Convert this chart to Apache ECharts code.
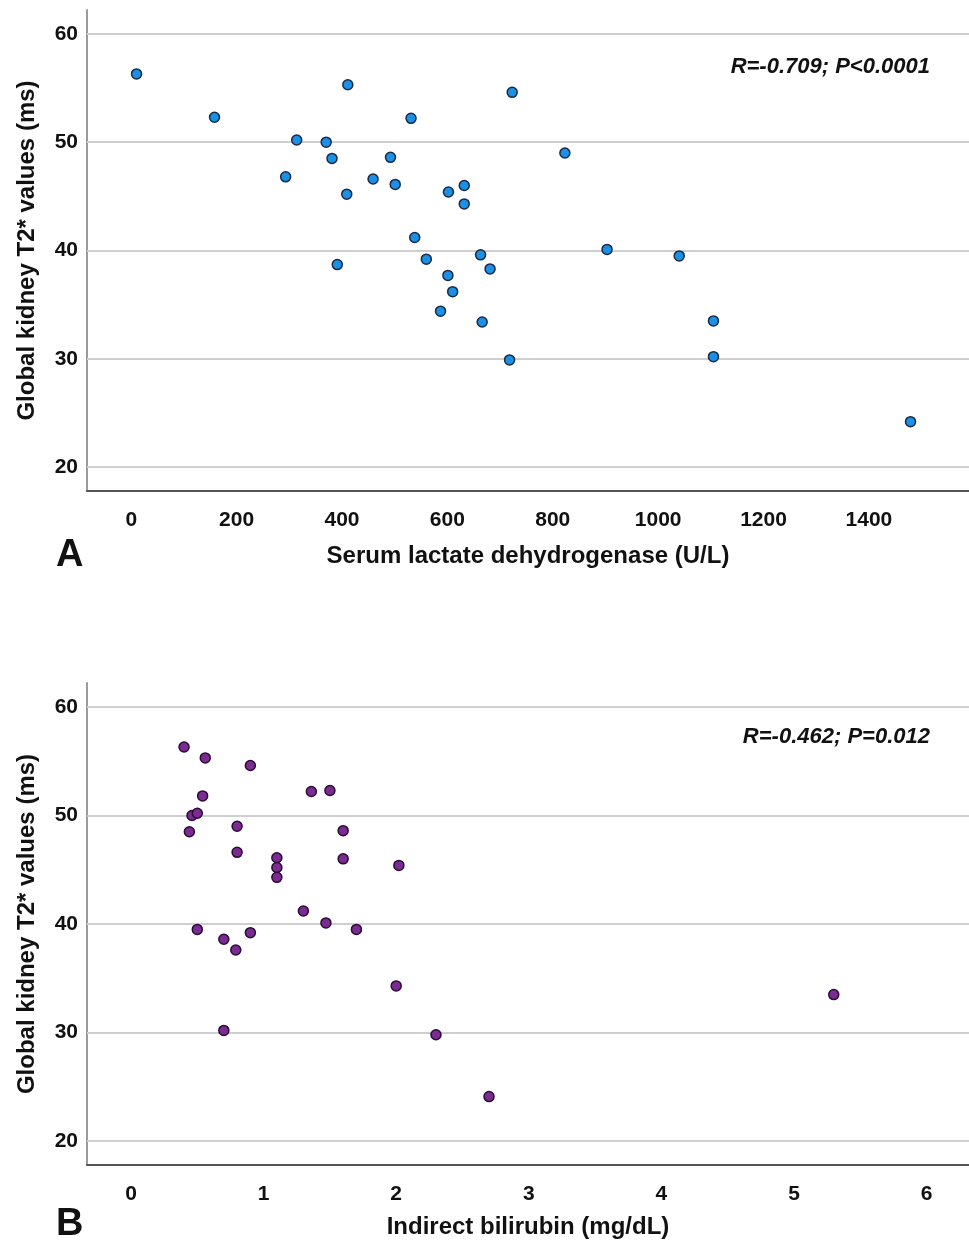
<!DOCTYPE html>
<html>
<head>
<meta charset="utf-8">
<script src="https://cdn.jsdelivr.net/npm/echarts@6/dist/echarts.min.js"></script>
<style>html,body{margin:0;padding:0;background:#fff}#c{width:969px;height:1243px}</style>
</head>
<body>
<div id="c"></div>
<script>
// Panel A: serum LDH vs T2*
const ldh = [10,158,293,314,370,381,391,409,411,459,492,501,531,538,560,587,601,602,610,632,632,663,666,681,718,723,823,903,1040,1105,1105,1479];
const t2A = [56.3,52.3,46.8,50.2,50.0,48.5,38.7,45.2,55.3,46.6,48.6,46.1,52.2,41.2,39.2,34.4,37.7,45.4,36.2,46.0,44.3,39.6,33.4,38.3,29.9,54.6,49.0,40.1,39.5,33.5,30.2,24.2];
// Panel B: indirect bilirubin vs T2*
const bili = [0.40,0.56,0.90,0.54,1.36,1.50,0.46,0.50,0.44,0.80,1.60,0.80,1.10,1.10,1.10,1.60,2.02,1.30,1.47,1.70,0.50,0.90,0.70,0.79,2.00,0.70,2.30,5.30,2.70];
const t2B = [56.3,55.3,54.6,51.8,52.2,52.3,50.0,50.2,48.5,49.0,48.6,46.6,46.1,45.2,44.3,46.0,45.4,41.2,40.1,39.5,39.5,39.2,38.6,37.6,34.3,30.2,29.8,33.5,24.1];
// Tick labels
const xTicksA = [0,200,400,600,800,1000,1200,1400];
const xTicksB = [0,1,2,3,4,5,6];
const yTicks = [20,30,40,50,60];
const xNameA = 'Serum lactate dehydrogenase (U/L)';
const xNameB = 'Indirect bilirubin (mg/dL)';
const yName = 'Global kidney T2* values (ms)';
const statA = 'R=-0.709; P<0.0001';
const statB = 'R=-0.462; P=0.012';

const FONT = '"Liberation Sans", Arial, sans-serif';
const chart = echarts.init(document.getElementById('c'), null, {renderer:'canvas'});

function xAxis(idx, min, max, ticks, name, gap){
  return {
    type:'value', gridIndex:idx, min:min, max:max,
    name:name, nameLocation:'middle', nameGap:gap,
    nameTextStyle:{fontFamily:FONT, fontWeight:'bold', fontSize:24, color:'#111'},
    axisLine:{show:true, onZero:false, lineStyle:{color:'#555', width:2}},
    axisTick:{show:false, customValues:ticks},
    axisLabel:{customValues:ticks, margin:19, formatter:v=>String(v), fontFamily:FONT, fontWeight:'bold', fontSize:21, color:'#111'},
    splitLine:{show:false}
  };
}
function yAxis(idx){
  return {
    type:'value', gridIndex:idx, min:17.8, max:62.2,
    name:yName, nameLocation:'middle', nameGap:48, nameRotate:90,
    nameTextStyle:{fontFamily:FONT, fontWeight:'bold', fontSize:24, color:'#111'},
    axisLine:{show:true, onZero:false, lineStyle:{color:'#9a9a9a', width:2}},
    axisTick:{show:false, customValues:yTicks},
    axisLabel:{customValues:yTicks, margin:9, formatter:v=>String(v), fontFamily:FONT, fontWeight:'bold', fontSize:21, color:'#111'},
    splitLine:{show:false}
  };
}
function gridLines(idx){
  return {
    type:'line', xAxisIndex:idx, yAxisIndex:idx, data:[], z:1, silent:true,
    markLine:{silent:true, z:1, symbol:['none','none'], label:{show:false},
      lineStyle:{color:'#cfcfcf', width:2, type:'solid'},
      emphasis:{disabled:true},
      data:yTicks.map(v=>({yAxis:v}))}
  };
}

chart.setOption({
  animation:false,
  grid:[
    {left:87, top:10, width:882, height:481},
    {left:87, top:683, width:882, height:482}
  ],
  xAxis:[ xAxis(0,-84,1590,xTicksA,xNameA,53), xAxis(1,-0.332,6.32,xTicksB,xNameB,50) ],
  yAxis:[ yAxis(0), yAxis(1) ],
  series:[
    gridLines(0), gridLines(1),
    {type:'scatter', xAxisIndex:0, yAxisIndex:0, z:3, symbolSize:10,
      itemStyle:{color:'#1a90e6', borderColor:'#1b2a44', borderWidth:1.5, opacity:1},
      data:ldh.map((v,i)=>[v,t2A[i]])},
    {type:'scatter', xAxisIndex:1, yAxisIndex:1, z:3, symbolSize:10,
      itemStyle:{color:'#7b2c92', borderColor:'#2a0c34', borderWidth:1.5, opacity:1},
      data:bili.map((v,i)=>[v,t2B[i]])}
  ],
  graphic:[
    {type:'text', right:39, top:56, style:{text:statA, font:'italic bold 22px '+FONT, fill:'#111'}},
    {type:'text', right:39, top:726, style:{text:statB, font:'italic bold 22px '+FONT, fill:'#111'}},
    {type:'text', left:56, top:537, style:{text:'A', font:'bold 38px '+FONT, fill:'#111'}},
    {type:'text', left:56, top:1206, style:{text:'B', font:'bold 38px '+FONT, fill:'#111'}}
  ]
});
</script>
</body>
</html>
